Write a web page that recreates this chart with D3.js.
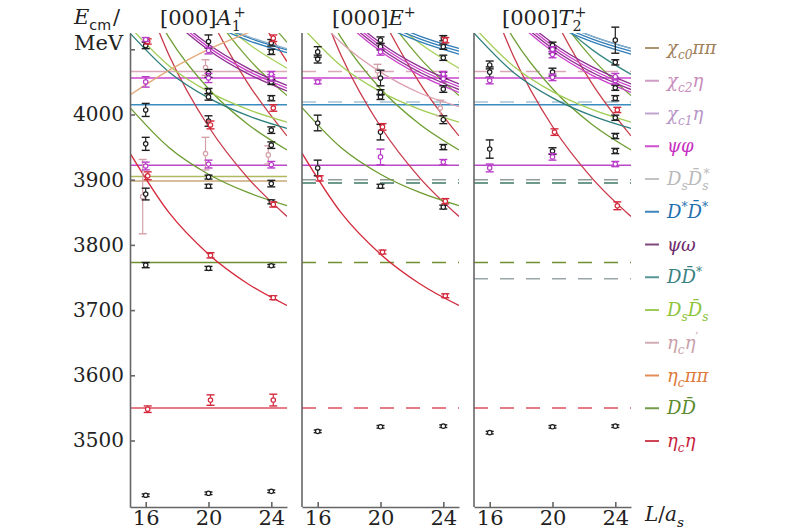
<!DOCTYPE html>
<html><head><meta charset="utf-8">
<script src="https://cdn.jsdelivr.net/npm/d3@7"></script>
<style>body{margin:0;background:#fff;} svg{display:block;}</style>
</head><body><svg id="c" width="800" height="530"></svg>
<script>
// ---------- DATA ----------
const Lticks = [16, 20, 24];
const Eticks = [3500, 3600, 3700, 3800, 3900, 4000, 4100];
const EtickLabels = ["3500", "3600", "3700", "3800", "3900", "4000", ""];
const curveL = [15, 17.5, 20, 22.5, 25];

// non-interacting energy curves (MeV) read at curveL
const etacEta1 = [3940.7, 3849.0, 3785.8, 3740.5, 3707.0];
const etacEta2 = [4244.9, 4090.2, 3981.6, 3902.9, 3843.6];
const etacEta3 = [4507.9, 4301.2, 4155.3, 4048.2, 3967.1];
const etacEta4 = [4745.1, 4492.6, 4313.7, 4181.6, 4081.2];
const DD1 = [4010.6, 3949.0, 3908.4, 3880.4, 3860.2];
const DD2 = [4235.0, 4117.4, 4039.4, 3985.0, 3945.6];
const DD3 = [4448.0, 4279.2, 4166.2, 4086.8, 4029.0];
const DD4 = [4651.2, 4435.2, 4289.2, 4186.2, 4110.8];
const DsDs1 = [4134.2, 4074.4, 4035.0, 4007.8, 3988.4];
const DsDs2 = [4352.0, 4237.8, 4162.0, 4109.2, 4071.0];
const DDst1 = [4124.8, 4064.9, 4025.5, 3998.2, 3978.6];
const DDst2 = [4343.5, 4228.8, 4152.8, 4099.9, 4061.6];
const psiOmega1 = [4231.9, 4155.0, 4103.3, 4066.9, 4040.4];
const DstDst1 = [4239.0, 4180.8, 4142.6, 4116.0, 4097.0];
const DsDsst1 = [4243.1, 4184.8, 4146.5, 4120.0, 4101.1];
const etacPiPiRise = [4030, 4068, 4100, 4125, 4148];
const paleDesc = [4175, 4110, 4065, 4033, 4012];

// curves per panel: [name, multiplicity]
const curvesA1 = [["etacEta1",1],["etacEta2",1],["etacEta3",1],["etacEta4",1],["DD1",1],["DD2",1],["DD3",1],["DD4",1],["DsDs1",1],["DsDs2",1],["DDst1",1],["psiOmega1",3],["DstDst1",2],["DsDsst1",1],["etacPiPiRise",1]];
const curvesE = [["etacEta1",1],["etacEta2",1],["etacEta3",1],["DD1",1],["DD2",1],["DD3",1],["DsDs1",1],["DsDs2",1],["psiOmega1",4],["DstDst1",3],["paleDesc",1]];
const curvesT2 = [["etacEta2",1],["etacEta3",1],["DD2",1],["DD3",1],["DDst1",1],["DDst2",1],["DsDs1",1],["psiOmega1",4],["DstDst1",3],["DsDsst1",1]];

// thresholds (MeV)
const thrA1 = [3550, 3773, 3898, 3905, 3922, 4015, 4056, 4066];
const thrA1Keys = ["etacEta","DD","etacEtap","DsDs","psiOmega","DstDst","psiPhi","chic2Eta"];
const thrE = [3550, 3773, 3895, 3900, 3922, 4015, 4019, 4056, 4066];
const thrEKeys = ["etacEta","DD","DDst","DsDsG","psiOmega","DstDst","DsDsst","psiPhi","chic2Eta"];
const thrT2 = [3550, 3748, 3773, 3895, 3900, 3922, 4015, 4019, 4056, 4066];
const thrT2Keys = ["etacEta","gray","DD","DDst","DsDsG","psiOmega","DstDst","DsDsst","psiPhi","chic2Eta"];

// energy levels [L, E, error]
const blackA1 = [[16,3416,2],[16,3769,4],[16,3878,9],[16,3955,10],[16,4007,10],[16,4106,5],
  [20,3419,2],[20,3764,3],[20,3890,3],[20,3904,3],[20,3990,8],[20,4027,5],[20,4036,4],[20,4063,6],[20,4112,10],
  [24,3422,2],[24,3768,2],[24,3866,3],[24,3894,5],[24,3953,5],[24,3976,5],[24,4025,4],[24,4050,4],[24,4096,4],[24,4110,5]];
const redA1 = [[16,3548,5],[16,3906,6],[16,4112,4],[20,3562,8],[20,3784,4],[20,3984,6],[24,3562,9],[24,3719,3],[24,3862,4],[24,4010,5],[24,4117,5]];
const magA1 = [[16,3921,6],[16,4050,8],[16,4115,3],[20,3924,6],[20,4056,7],[20,4098,5],[24,3923,5],[24,4056,5],[24,4062,4]];
const paleA1 = [[16,3874,57],[20,3940,25],[20,4072,12],[24,3938,14]];

const blackE = [[16,3514,2],[16,3918,12],[16,3987,12],[16,4085,6],[16,4096,8],
  [20,3521,2],[20,3890,3],[20,3973,12],[20,4027,4],[20,4034,4],[20,4056,12],[20,4104,5],[20,4114,5],
  [24,3522,2],[24,3858,3],[24,3950,4],[24,3992,6],[24,4039,5],[24,4060,5],[24,4087,4],[24,4104,4],[24,4117,4]];
const redE = [[16,3902,4],[20,3789,3],[20,3981,5],[24,3722,3],[24,3867,4],[24,4114,4]];
const magE = [[16,4050,3],[20,3935,12],[20,4096,5],[24,3927,4],[24,4055,5],[24,4062,4]];
const paleE = [[20,4067,10],[24,4010,12]];

const blackT2 = [[16,3512,2],[16,3947,14],[16,4065,8],[16,4076,6],
  [20,3521,2],[20,3944,5],[20,4065,6],[20,4098,5],[20,4106,5],
  [24,3522,2],[24,3944,4],[24,3967,4],[24,3995,4],[24,4025,4],[24,4041,4],[24,4080,4],[24,4114,20]];
const redT2 = [[20,3973,5],[24,3860,6],[24,4007,4]];
const magT2 = [[16,3918,6],[16,4052,5],[20,3935,5],[20,4057,5],[20,4092,5],[20,4100,4],[24,3924,4],[24,4052,5],[24,4058,5]];
const paleT2 = [];

// legend
const legendLabels = [
  [["χ","i"],["c0","subi"],["ππ","i"]],
  [["χ","i"],["c2","subi"],["η","i"]],
  [["χ","i"],["c1","subi"],["η","i"]],
  [["ψφ","i"]],
  [["D","i"],["s","subi"],["D\u0304","i"],["s","subi"],["*","sup",-5]],
  [["D","i"],["*","sup"],["D\u0304","i"],["*","sup"]],
  [["ψω","i"]],
  [["DD\u0304","i"],["*","sup"]],
  [["D","i"],["s","subi"],["D\u0304","i"],["s","subi"]],
  [["η","i"],["c","subi"],["η","i"],["′","sup"]],
  [["η","i"],["c","subi"],["ππ","i"]],
  [["DD\u0304","i"]],
  [["η","i"],["c","subi"],["η","i"]]
];
const legendColors = ["#a0805a","#c98bbb","#b795c6","#c630c2","#b9b9b9","#1f70ae","#6d2a6a","#3a8282","#8cc43c","#c9a0a8","#de7a3a","#5c8a2c","#c8243c"];

// ---------- STYLE / LOOKUP ----------
const curveData = {etacEta1,etacEta2,etacEta3,etacEta4,DD1,DD2,DD3,DD4,DsDs1,DsDs2,DDst1,DDst2,psiOmega1,DstDst1,DsDsst1,etacPiPiRise,paleDesc};
const curveColor = {etacEta1:"#d42a3c",etacEta2:"#c8384a",etacEta3:"#c8404a",etacEta4:"#d23a40",
  DD1:"#6b9a2e",DD2:"#6f9f34",DD3:"#76a43a",DD4:"#7aa842",DsDs1:"#a2cd55",DsDs2:"#a8d25c",
  DDst1:"#2d7f7c",DDst2:"#3a8a84",psiOmega1:["#8b2d8f","#cc3fcc"],DstDst1:"#2f7db8",DsDsst1:"#8fb2cc",
  etacPiPiRise:"#e3a877",paleDesc:"#dca0b0"};
const thrColor = {etacEta:"#dc5060",DD:"#6f8f30",etacEtap:"#c9a878",DsDs:"#b0b860",DsDsG:"#8e9c96",
  psiOmega:"#bb48c8",DstDst:"#3a8cc0",DsDsst:"#a8c4d8",psiPhi:"#cc44cc",chic2Eta:"#d9a8b8",DDst:"#3f7a6a",gray:"#9aa6a8"};
const solidKeys = ["psiOmega","DstDst","psiPhi"];
const SERIF = "DejaVu Serif";

const panels = [
  {title:[["[000]","r"],["A","i"],["1","sub"],["+","sup",-7]], tx:160, curves:curvesA1, thr:thrA1, thrKeys:thrA1Keys, black:blackA1, red:redA1, mag:magA1, pale:paleA1},
  {title:[["[000]","r"],["E","i"],["+","sup"]], tx:332, curves:curvesE, thr:thrE, thrKeys:thrEKeys, black:blackE, red:redE, mag:magE, pale:paleE},
  {title:[["[000]","r"],["T","i"],["2","sub"],["+","sup",-7]], tx:502, curves:curvesT2, thr:thrT2, thrKeys:thrT2Keys, black:blackT2, red:redT2, mag:magT2, pale:paleT2}
];

// ---------- DRAW ----------
const svg = d3.select("#c");
const y = d3.scaleLinear().domain([3398, 4125]).range([507, 33]);
const PW = 157;
const panelLeft = [130, 302, 474];

function mathText(sel, x, yy, parts, size, color) {
  const t = sel.append("text").attr("x", x).attr("y", yy)
    .attr("font-family", SERIF).attr("font-size", size).attr("fill", color);
  let cur = 0;
  parts.forEach(p => {
    const [s, k, dx] = p;
    let shift = 0, fs = size;
    if (k.startsWith("sub")) { shift = size * 0.28; fs = size * 0.68; }
    if (k.startsWith("sup")) { shift = -size * 0.38; fs = size * 0.68; }
    const italic = k === "i" || k.endsWith("i");
    const ts = t.append("tspan").text(s).attr("font-size", fs).attr("dy", shift - cur);
    if (italic) ts.attr("font-style", "italic");
    if (dx) ts.attr("dx", dx);
    cur = shift;
  });
  return t;
}

panels.forEach((pn, i) => {
  const x0 = panelLeft[i];
  const x = d3.scaleLinear().domain([15, 25]).range([x0, x0 + PW]);
  const g = svg.append("g");
  const clipId = "clip" + i;
  svg.append("clipPath").attr("id", clipId).append("rect")
    .attr("x", x0).attr("y", 33).attr("width", PW).attr("height", 474);
  const cg = g.append("g").attr("clip-path", `url(#${clipId})`);

  // thresholds
  cg.selectAll("line.thr").data(pn.thr.map((E, j) => ({E, key: pn.thrKeys[j]}))).enter()
    .append("line").attr("class", "thr")
    .attr("x1", x0).attr("x2", x0 + PW)
    .attr("y1", d => y(d.E)).attr("y2", d => y(d.E))
    .attr("stroke", d => thrColor[d.key]).attr("stroke-width", 1.5)
    .attr("stroke-dasharray", d => (i > 0 && !solidKeys.includes(d.key)) ? "14,12" : null);

  // curves
  const line = d3.line().x(d => x(d[0])).y(d => y(d[1])).curve(d3.curveMonotoneX);
  pn.curves.forEach(([name, mult]) => {
    const pts = curveL.map((L, k) => [L, curveData[name][k]]);
    for (let m = 0; m < mult; m++) {
      const col = Array.isArray(curveColor[name]) ? curveColor[name][m % 2] : curveColor[name];
      cg.append("path").datum(pts).attr("d", line)
        .attr("transform", `translate(0,${(m - (mult - 1) / 2) * 2.8})`)
        .attr("fill", "none").attr("stroke", col).attr("stroke-width", 1.3);
    }
  });

  // axes
  const ax = g.append("g").attr("transform", "translate(0,507)")
    .call(d3.axisBottom(x).tickValues(Lticks).tickSize(-5).tickSizeOuter(0).tickPadding(3));
  ax.attr("font-family", SERIF).attr("font-size", 21);
  ax.selectAll("text").attr("fill", "#222");
  ax.selectAll("path,line").attr("stroke", "#666").attr("stroke-width", 1.6);

  if (i === 0) {
    const ay = g.append("g").attr("transform", `translate(${x0},0)`)
      .call(d3.axisLeft(y).tickValues(Eticks).tickSize(-5).tickSizeOuter(0).tickPadding(6)
        .tickFormat((d, k) => EtickLabels[k]));
    ay.attr("font-family", SERIF).attr("font-size", 20);
    ay.selectAll("text").attr("fill", "#222");
    ay.selectAll("path,line").attr("stroke", "#666").attr("stroke-width", 1.6);
  } else {
    g.append("line").attr("x1", x0).attr("x2", x0).attr("y1", 33).attr("y2", 507)
      .attr("stroke", "#666").attr("stroke-width", 1.6);
  }

  // points
  const groups = [[pn.pale, "#d4a0a8", -3], [pn.black, "#1e1e1e", 0], [pn.red, "#d3283c", 2], [pn.mag, "#b93dc8", 0]];
  groups.forEach(([arr, col, dx]) => {
    const pg = g.append("g").selectAll("g").data(arr).enter().append("g");
    pg.append("line").attr("x1", d => x(d[0]) + dx).attr("x2", d => x(d[0]) + dx)
      .attr("y1", d => y(d[1] + d[2])).attr("y2", d => y(d[1] - d[2]))
      .attr("stroke", col).attr("stroke-width", 1.2);
    pg.append("line").attr("x1", d => x(d[0]) + dx - 4).attr("x2", d => x(d[0]) + dx + 4)
      .attr("y1", d => y(d[1] + d[2])).attr("y2", d => y(d[1] + d[2]))
      .attr("stroke", col).attr("stroke-width", 1.4);
    pg.append("line").attr("x1", d => x(d[0]) + dx - 4).attr("x2", d => x(d[0]) + dx + 4)
      .attr("y1", d => y(d[1] - d[2])).attr("y2", d => y(d[1] - d[2]))
      .attr("stroke", col).attr("stroke-width", 1.4);
    pg.append("circle").attr("cx", d => x(d[0]) + dx).attr("cy", d => y(d[1])).attr("r", 2.2)
      .attr("fill", "#fff").attr("stroke", col).attr("stroke-width", 1.2);
  });

  // title
  mathText(svg, pn.tx, 25, pn.title, 21, "#222");
});

// axis labels
const ecm = mathText(svg, 74, 24, [["E","i"],["cm","sub"],["/","r",2]], 21, "#222");
ecm.selectAll("tspan").filter((d, k) => k === 1).attr("font-family", "DejaVu Sans");
mathText(svg, 74, 50, [["MeV","r"]], 21, "#222");
mathText(svg, 645, 521, [["L","i"],["/","r"],["a","i"],["s","subi"]], 20, "#222");

// legend
legendLabels.forEach((parts, k) => {
  const cy = 48 + k * 32.75;
  svg.append("line").attr("x1", 645).attr("x2", 659).attr("y1", cy).attr("y2", cy)
    .attr("stroke", legendColors[k]).attr("stroke-width", 2).attr("opacity", 0.85);
  mathText(svg, 667, cy + 6, parts, 18, legendColors[k]);
});
</script>
</body></html>
